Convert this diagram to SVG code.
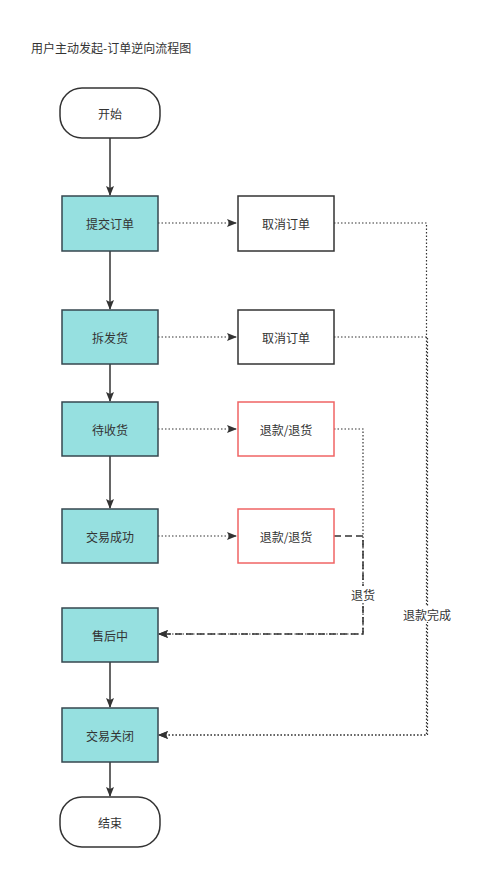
<svg xmlns="http://www.w3.org/2000/svg" width="479" height="872" viewBox="0 0 479 872">
<defs>
<marker id="ah" markerWidth="10" markerHeight="8" refX="9" refY="4" orient="auto" markerUnits="userSpaceOnUse">
<path d="M0,0 L10,4 L0,8 L2,4 Z" fill="#333333"/>
</marker>
<style>
text{font-family:"Noto Sans CJK SC","Liberation Sans",sans-serif;font-size:12px;fill:#333333;text-anchor:middle;dominant-baseline:central}
.term{fill:#ffffff;stroke:#333333;stroke-width:1.5}
.proc{fill:#96e0e0;stroke:#36474f;stroke-width:1.5}
.cancel{fill:#ffffff;stroke:#333333;stroke-width:1.5}
.refund{fill:#ffffff;stroke:#f06464;stroke-width:1.5}
.solid{fill:none;stroke:#333333;stroke-width:1.5}
.dot{fill:none;stroke:#333333;stroke-width:1.2;stroke-dasharray:1.5 2}
.dash{fill:none;stroke:#333333;stroke-width:1.5;stroke-dasharray:7 4}
.lbl{fill:#ffffff}
</style>
</defs>
<rect width="479" height="872" fill="#ffffff"/>
<text x="31" y="47" style="text-anchor:start">用户主动发起-订单逆向流程图</text>

<g id="connectors">
<path class="solid" d="M110,138 V195" marker-end="url(#ah)"/>
<path class="solid" d="M110,251 V309" marker-end="url(#ah)"/>
<path class="solid" d="M110,364 V401" marker-end="url(#ah)"/>
<path class="solid" d="M110,456 V508" marker-end="url(#ah)"/>
<path class="solid" d="M110,662 V707" marker-end="url(#ah)"/>
<path class="solid" d="M110,762 V796" marker-end="url(#ah)"/>
<path class="dot" d="M158,223 H236" marker-end="url(#ah)"/>
<path class="dot" d="M158,337 H236" marker-end="url(#ah)"/>
<path class="dot" d="M158,429 H236" marker-end="url(#ah)"/>
<path class="dot" d="M158,536 H236" marker-end="url(#ah)"/>
<path class="dot" d="M334,223 H426.5 V735 H159" marker-end="url(#ah)"/>
<path class="dot" d="M334,337 H427.5 V735 H159" marker-end="url(#ah)"/>
<path class="dot" d="M334,429 H363 V634 H159" marker-end="url(#ah)"/>
<path class="dash" d="M334,536 H363 V634 H159" marker-end="url(#ah)"/>
<rect class="lbl" x="349" y="586" width="28" height="16"/>
<text x="363" y="594">退货</text>
<rect class="lbl" x="401" y="606" width="52" height="16"/>
<text x="427" y="614">退款完成</text>
</g>

<g id="start"><rect class="term" x="60" y="88" width="100" height="50" rx="22" ry="22"/><text x="110" y="113">开始</text></g>
<g id="submit"><rect class="proc" x="62" y="196" width="96" height="55"/><text x="110" y="223.5">提交订单</text></g>
<g id="cancel1"><rect class="cancel" x="238" y="196" width="96" height="55"/><text x="286" y="223.5">取消订单</text></g>
<g id="split"><rect class="proc" x="62" y="310" width="96" height="54"/><text x="110" y="337">拆发货</text></g>
<g id="cancel2"><rect class="cancel" x="238" y="310" width="96" height="54"/><text x="286" y="337">取消订单</text></g>
<g id="receive"><rect class="proc" x="62" y="402" width="96" height="54"/><text x="110" y="429">待收货</text></g>
<g id="refund1"><rect class="refund" x="238" y="402" width="96" height="54"/><text x="286" y="429">退款/退货</text></g>
<g id="success"><rect class="proc" x="62" y="509" width="96" height="54"/><text x="110" y="536">交易成功</text></g>
<g id="refund2"><rect class="refund" x="238" y="509" width="96" height="54"/><text x="286" y="536">退款/退货</text></g>
<g id="aftersale"><rect class="proc" x="62" y="608" width="96" height="54"/><text x="110" y="635">售后中</text></g>
<g id="closed"><rect class="proc" x="62" y="708" width="96" height="54"/><text x="110" y="735">交易关闭</text></g>
<g id="end"><rect class="term" x="60" y="797" width="100" height="50" rx="22" ry="22"/><text x="110" y="822">结束</text></g>
</svg>
